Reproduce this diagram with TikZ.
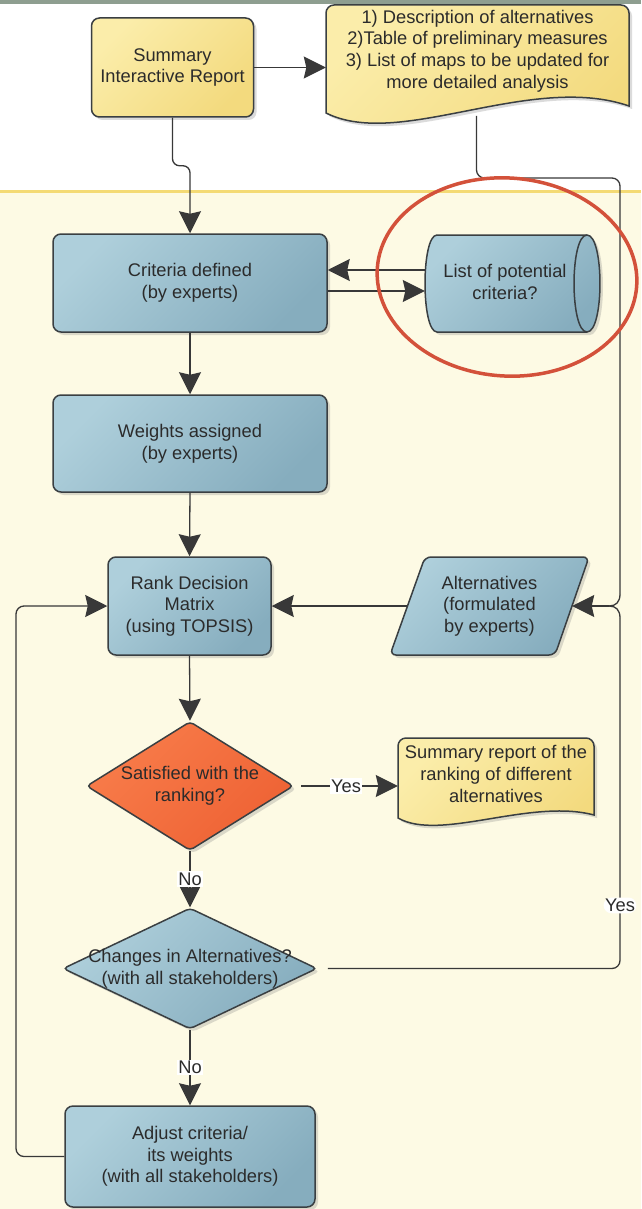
\documentclass[tikz,border=0pt]{standalone}
\usepackage{fontspec}
\setmainfont{Liberation Sans}
\usetikzlibrary{shapes.geometric,arrows.meta,shadows}

\definecolor{bluetop}{HTML}{AECFDB}
\definecolor{bluebot}{HTML}{86ADBE}
\definecolor{yeltop}{HTML}{FBEDAA}
\definecolor{yelbot}{HTML}{F3DA7E}
\definecolor{orgtop}{HTML}{F87C4A}
\definecolor{orgbot}{HTML}{EE6234}
\definecolor{edge}{HTML}{3A3F42}
\definecolor{wire}{HTML}{383838}
\definecolor{inktxt}{HTML}{2B2B2B}
\definecolor{cream}{HTML}{FDFAE4}
\definecolor{bandline}{HTML}{F4DA74}
\definecolor{topband}{HTML}{8E9E90}
\definecolor{circlered}{HTML}{D3513A}

\begin{document}
\begin{tikzpicture}[x=1pt,y=-1pt,
  font=\fontsize{18.3}{21.7}\selectfont,
  every node/.style={text=inktxt},
  softshadow/.style={drop shadow={opacity=0.28,shadow xshift=3pt,shadow yshift=-3pt}},
  bluefill/.style={top color=bluetop,bottom color=bluebot,shading angle=45},
  yellowfill/.style={top color=yeltop,bottom color=yelbot,shading angle=45},
  orangefill/.style={top color=orgtop,bottom color=orgbot,shading angle=45},
  outline/.style={draw=edge,line width=1.5pt},
  procbox/.style={outline,rounded corners=8pt,bluefill,softshadow,align=center},
  notebox/.style={outline,rounded corners=8pt,yellowfill,softshadow,align=center},
  decision/.style={diamond,outline,rounded corners=4pt,softshadow,inner sep=0pt},
  textonly/.style={align=center,inner sep=0pt},
  conn/.style={draw=wire,line width=1.3pt},
  arr/.style={conn,-{Stealth[length=22pt,width=22pt,inset=2.5pt]}},
  tag/.style={fill=white,inner sep=1.5pt,text=inktxt},
]
\useasboundingbox (0,0) rectangle (641,1209);

% page background: white header strip, cream working area
\fill[white] (0,0) rectangle (641,192);
\fill[cream] (0,192) rectangle (641,1209);
\fill[topband] (0,0) rectangle (641,4.5);
\draw[bandline,line width=2.5pt] (0,191.5) -- (641,191.5);

% ---- header: report and its document output
\node[notebox,minimum width=162pt,minimum height=99pt] (sum) at (172.5,67.5)
  {Summary\\Interactive Report};

\path[outline,yellowfill,softshadow]
  (326,113) -- (326,13) .. controls (326,8.6) and (329.6,5) .. (334,5)
  -- (621,5) .. controls (625.4,5) and (629,8.6) .. (629,13)
  -- (629,106) .. controls (530,72) and (400,150) .. (326,113) -- cycle;
\node[textonly,minimum width=303pt] (doc) at (477.5,51)
  {1) Description of alternatives\\2)Table of preliminary measures\\3) List of maps to be updated for\\more detailed analysis};
\coordinate (docfoot) at (476.5,116);

% ---- criteria and weights
\node[procbox,minimum width=274pt,minimum height=98pt] (crit) at (190,283)
  {Criteria defined\\(by experts)};

\path[outline,bluefill,softshadow]
  (437,235) -- (587,235) .. controls (604.3,235) and (604.3,332) .. (587,332)
  -- (437,332) .. controls (421,332) and (421,235) .. (437,235) -- cycle;
\draw[outline] (587,235) .. controls (569.7,235) and (569.7,332) .. (587,332);
\node[textonly,minimum width=160pt,minimum height=97pt] (cyl) at (505,282)
  {List of potential\\criteria?};

\node[procbox,minimum width=274pt,minimum height=97pt] (wts) at (190,443.5)
  {Weights assigned\\(by experts)};

% ---- ranking
\node[procbox,minimum width=163pt,minimum height=98pt] (rank) at (189.5,606)
  {Rank Decision\\Matrix\\(using TOPSIS)};

\path[outline,bluefill,softshadow,rounded corners=6pt]
  (390,655) -- (425,557) -- (589,557) -- (555,655) -- cycle;
\node[textonly,minimum width=165pt] (alt) at (489.5,606)
  {Alternatives\\(formulated\\by experts)};

% ---- decisions
\node[decision,orangefill,minimum width=207pt,minimum height=129pt,
  label={[textonly]center:Satisfied with the\\ranking?}] (sat) at (190,786) {};

\path[outline,yellowfill,softshadow]
  (398,818) -- (398,746) .. controls (398,741.6) and (401.6,738) .. (406,738)
  -- (586,738) .. controls (590.4,738) and (594,741.6) .. (594,746)
  -- (594,815) .. controls (530,798) and (440,842) .. (398,818) -- cycle;
\node[textonly,minimum width=196pt] (rep) at (496,774)
  {Summary report of the\\ranking of different\\alternatives};

\node[decision,bluefill,minimum width=254pt,minimum height=121pt,
  label={[textonly]center:Changes in Alternatives?\\(with all stakeholders)}] (chg) at (190,968.5) {};

\node[procbox,minimum width=250pt,minimum height=101pt] (adj) at (190,1156.5)
  {Adjust criteria/\\its weights\\(with all stakeholders)};

% ---- connectors
\draw[arr] (sum.east) -- (sum.east -| doc.west);
\draw[arr,rounded corners=7pt] (sum.south) -- ++(0,48) -| (crit.north);
\draw[arr] (cyl.west |- 0,270) -- (crit.east |- 0,270);
\draw[arr] (crit.east |- 0,291) -- (cyl.west |- 0,291);
\draw[arr] (crit.south) -- (wts.north);
\draw[arr] (wts.south) -- (rank.north);
\draw[arr] (alt.west) -- (rank.east);
\draw[arr] (rank.south) -- (sat.north);
\draw[arr,shorten <=7pt] (sat.east) -- node[tag]{Yes} (sat.east -| rep.west);
\draw[arr] (sat.south) -- node[tag]{No} (chg.north);
\draw[arr] (chg.south) -- node[tag]{No} (adj.north);

% right-hand rail feeding the alternatives
\coordinate (railtop) at (620,178);
\coordinate (railbot) at (620,968.5);
\coordinate (railA) at (620,594);
\coordinate (railB) at (620,618);
\coordinate (merge) at (609,606);
\draw[conn,rounded corners=8pt] (docfoot) |- (railtop) -- (railA);
\draw[conn] (railA) .. controls (620,602) and (616,606) .. (merge);
\draw[conn,rounded corners=8pt,shorten <=10pt] (chg.east) -- (railbot)
  -- node[tag,pos=0.18]{Yes} (railB);
\draw[conn] (railB) .. controls (620,610) and (616,606) .. (merge);
\draw[arr] (merge) -- (alt.east);

% feedback loop to the ranking step
\coordinate (loopx) at (16,0);
\draw[arr,rounded corners=8pt] (adj.west) -| (loopx |- rank.west) -- (rank.west);

% highlight ring
\draw[circlered,line width=3.5pt,rotate around={-4:(507,277)}]
  (507,277) ellipse [x radius=130pt,y radius=99pt];
\end{tikzpicture}
\end{document}
